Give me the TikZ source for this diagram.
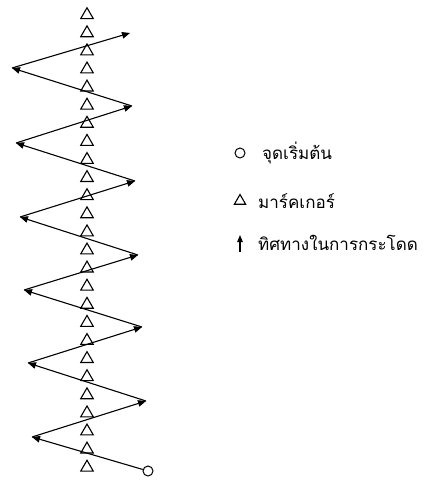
\documentclass[tikz,border=0pt]{standalone}
\usepackage{fontspec}
\newfontfamily\thaifont[Script=Thai]{Loma}
\usetikzlibrary{shapes.geometric,arrows.meta}
\begin{document}
\begin{tikzpicture}[x=1pt,y=-1pt,
  marker/.style={draw,line width=1.1pt,regular polygon,regular polygon sides=3,minimum size=14.5pt,inner sep=0pt},
  path/.style={line width=1.1pt,-{Triangle[length=8pt,width=6.5pt]}},
  startpt/.style={draw,line width=1pt,circle,minimum size=10pt,inner sep=0pt},
  lbl/.style={anchor=west,font=\thaifont\fontsize{17}{19}\selectfont,inner sep=0pt}]
\useasboundingbox (0,0) rectangle (424,482);
\foreach \i in {0,...,25}{
  \node[marker] (t\i) at (87,{15+18.1*\i}) {};
}
\node[startpt] (s) at (148,471) {};
\coordinate (l1) at (32,437);
\coordinate (r1) at (146,401);
\coordinate (l2) at (28,363);
\coordinate (r2) at (142,327);
\coordinate (l3) at (24,290);
\coordinate (r3) at (138,255);
\coordinate (l4) at (20,217);
\coordinate (r4) at (135,181);
\coordinate (l5) at (16,143);
\coordinate (r5) at (132,106);
\coordinate (l6) at (12,68);
\coordinate (r6) at (130,33);
\draw[path] (s) -- (l1);
\draw[path] (l1) -- (r1);
\draw[path] (r1) -- (l2);
\draw[path] (l2) -- (r2);
\draw[path] (r2) -- (l3);
\draw[path] (l3) -- (r3);
\draw[path] (r3) -- (l4);
\draw[path] (l4) -- (r4);
\draw[path] (r4) -- (l5);
\draw[path] (l5) -- (r5);
\draw[path] (r5) -- (l6);
\draw[path] (l6) -- (r6);
% legend
\node[startpt] (lc) at (240,153) {};
\node[lbl] (lct) at (262,153) {จุดเริ่มต้น};
\node[marker,minimum size=13pt] (lt) at (240,201) {};
\node[lbl] (ltt) at (258,201) {มาร์คเกอร์};
\coordinate (la0) at (240,252);
\coordinate (la1) at (240,235);
\draw[line width=1.1pt,-{Triangle[length=7pt,width=5.5pt]}] (la0) -- (la1);
\node[lbl] (lat) at (258,243) {ทิศทางในการกระโดด};
\end{tikzpicture}
\end{document}
